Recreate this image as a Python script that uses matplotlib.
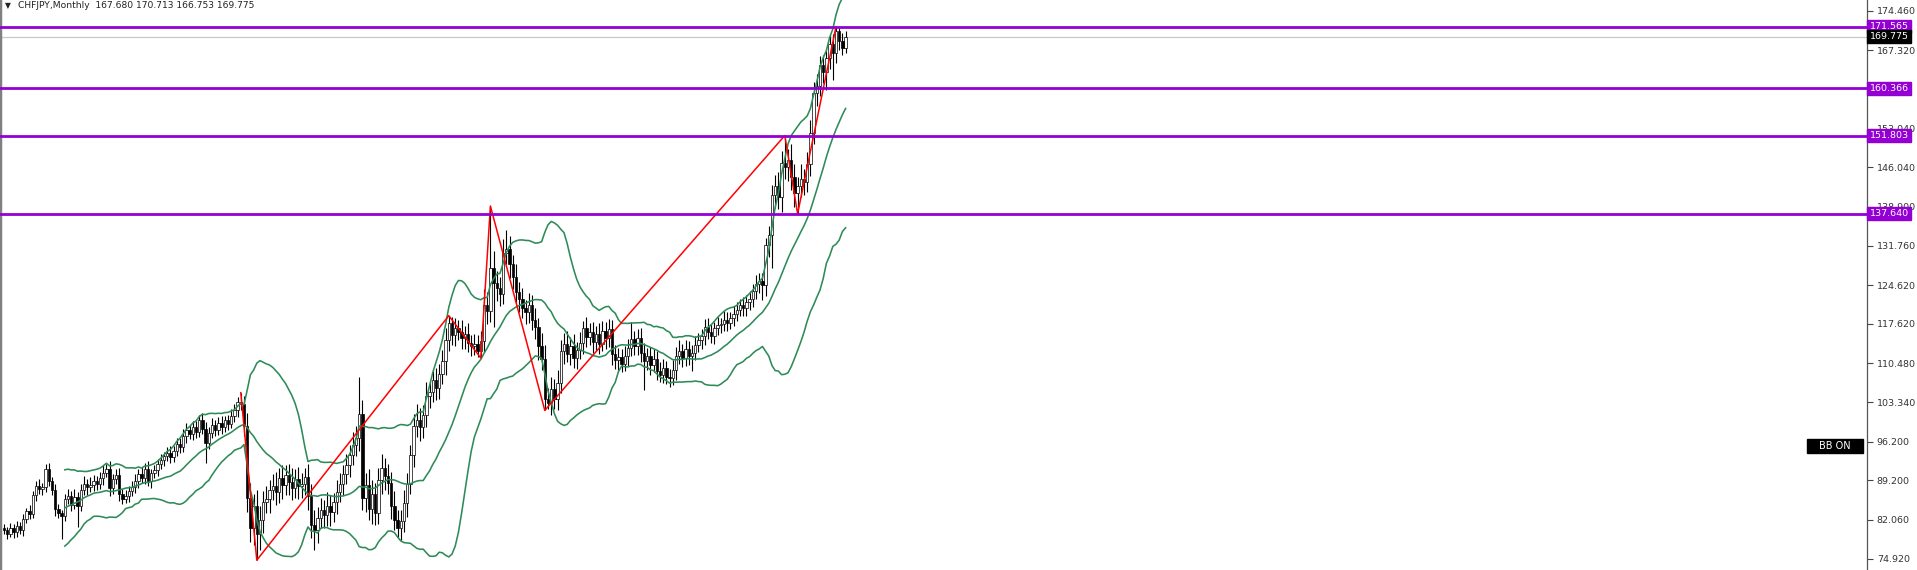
import numpy as np
import pandas as pd
import matplotlib
matplotlib.use("Agg")
import matplotlib.pyplot as plt
from matplotlib.transforms import blended_transform_factory
from matplotlib.patches import Rectangle

# ---------------- data ----------------
first_open = 80.5
closes = [
    80.2, 79.5, 80.6, 79.8, 80.9, 80.1, 82.2, 83.6, 83.0, 86.5, 88.2, 87.6, 88.0, 91.2, 89.0, 87.5, 84.0, 83.2, 82.8, 85.8,
    86.4, 84.8, 86.2, 84.6, 87.5, 88.6, 87.9, 88.3, 89.1, 88.5, 89.6, 90.6, 91.2, 87.8, 89.5, 90.2, 86.8, 85.9, 86.4, 87.2,
    87.9, 89.0, 90.4, 89.6, 91.3, 89.1, 90.5, 91.0, 92.1, 92.9, 93.6, 94.2, 93.5, 94.6, 95.8, 95.2, 97.2, 98.4, 97.6, 98.9,
    98.0, 100.2, 98.6, 96.0, 97.8, 99.2, 98.4, 99.6, 98.9, 100.1, 99.5, 100.8, 101.9, 103.4, 103.0, 99.0, 86.0, 80.5, 84.5, 79.5,
    82.0, 85.2, 85.8, 87.4, 88.2, 87.0, 89.6, 88.4, 90.1, 88.9, 87.8, 89.5, 88.2, 88.6, 89.8, 86.4, 81.0, 80.2, 82.4, 83.8,
    82.9, 84.6, 83.4, 85.2, 87.0, 88.6, 90.4, 92.0, 93.8, 95.6, 96.9, 101.2, 86.0, 88.4, 84.0, 86.8, 83.2, 89.2, 91.4, 90.0,
    88.8, 84.6, 82.0, 80.6, 81.8, 85.0, 88.5, 93.8, 99.0, 100.2, 98.8, 101.0, 104.6, 105.2, 107.4, 106.0, 108.5, 110.8, 114.6, 117.8,
    115.6, 116.8, 116.2, 115.0, 115.8, 114.2, 113.6, 114.0, 112.6, 114.5, 121.0, 120.0, 127.8, 125.0, 124.2, 123.0, 130.4, 131.2, 128.4, 126.2,
    123.4, 122.2, 120.4, 119.8, 121.0, 118.4, 117.0, 113.5, 111.2, 104.0, 103.2, 105.8, 104.0, 106.8, 112.6, 114.0, 112.2, 113.6, 111.4, 112.8,
    114.2, 116.8, 115.2, 116.2, 114.4, 115.8, 114.0, 116.4, 115.0, 116.6, 112.2, 111.0, 111.6, 110.4, 111.8, 113.2, 114.8, 113.6, 115.0, 112.4,
    110.8, 111.8, 110.2, 111.2, 109.0, 108.4, 109.6, 108.0, 107.8, 109.2, 111.8, 112.6, 111.4, 113.0, 111.8, 112.4, 113.8, 114.6, 115.4, 117.0,
    116.2, 115.4, 116.8, 117.4, 117.6, 118.4, 117.8, 118.6, 119.4, 120.2, 121.0, 120.4, 121.6, 122.2, 123.6, 124.8, 125.4, 124.6, 132.0, 133.8,
    141.0, 142.6, 140.6, 146.8, 146.0, 147.4, 144.2, 141.4, 142.6, 144.0, 143.4, 146.6, 152.2, 159.5, 160.8, 164.6, 163.4, 165.8, 168.4, 166.8,
    170.8, 169.0, 167.68, 169.775,
]
upper_wicks = [
    0.8, 0.6, 0.9, 0.7, 1.0, 0.8, 0.9, 0.6, 1.1, 0.8, 0.9, 1.2, 0.7, 0.9, 1.1, 0.8, 1.0, 0.9, 0.7, 1.0,
    1.2, 0.9, 1.4, 0.8, 1.1, 1.3, 0.9, 1.5, 1.0, 0.8, 1.2, 1.4, 1.0, 1.6, 0.9, 1.1, 1.2, 0.8, 1.0, 0.9,
    1.1, 1.3, 0.9, 1.2, 1.0, 1.4, 0.8, 1.0, 0.9, 1.1, 0.8, 1.0, 1.2, 0.9, 1.1, 1.0, 1.3, 1.2, 0.9, 1.1,
    1.0, 0.9, 1.3, 1.2, 1.0, 1.4, 0.9, 1.1, 1.2, 0.8, 1.0, 1.3, 1.2, 0.9, 1.7, 1.6, 2.4, 2.8, 2.2, 3.0,
    2.6, 2.0, 2.4, 1.8, 2.2, 2.6, 1.9, 2.3, 1.8, 2.1, 2.5, 1.7, 2.2, 2.0, 1.6, 2.4, 2.1, 2.8, 1.9, 2.2,
    1.8, 2.4, 2.0, 1.7, 2.2, 1.9, 1.6, 2.0, 1.8, 2.3, 2.1, 6.8, 2.6, 2.2, 2.8, 2.4, 2.0, 2.3, 2.6, 1.9,
    2.2, 2.0, 2.6, 1.8, 2.1, 2.4, 2.0, 1.9, 2.3, 2.8, 2.2, 1.9, 2.4, 2.0, 1.7, 2.2, 1.8, 2.0, 2.3, 1.3,
    1.0, 1.8, 1.6, 2.1, 1.5, 1.9, 1.4, 1.7, 1.6, 1.8, 3.0, 2.4, 11.2, 3.0, 2.2, 2.0, 2.6, 3.5, 2.4, 1.8,
    2.2, 1.9, 2.0, 1.6, 2.3, 1.8, 2.0, 1.7, 2.4, 2.6, 2.0, 2.2, 1.8, 2.4, 2.0, 1.9, 2.3, 1.7, 2.1, 1.6,
    1.9, 1.4, 2.0, 1.6, 1.8, 1.5, 1.9, 1.7, 1.6, 1.9, 1.8, 1.5, 1.6, 1.4, 1.8, 1.6, 3.2, 1.5, 1.7, 1.9,
    1.8, 1.5, 1.6, 1.9, 1.4, 1.6, 1.7, 1.3, 1.5, 1.8, 1.6, 2.0, 1.4, 1.7, 1.5, 1.3, 1.6, 1.4, 1.2, 1.5,
    1.6, 1.3, 1.2, 1.4, 1.1, 1.5, 1.3, 1.2, 1.4, 1.3, 1.2, 1.5, 1.3, 1.4, 1.2, 1.6, 1.5, 1.4, 1.2, 1.6,
    1.8, 2.0, 2.6, 2.2, 5.0, 2.0, 2.8, 2.4, 1.6, 2.6, 1.8, 2.2, 2.4, 2.0, 2.2, 1.6, 1.8, 1.4, 1.6, 1.8,
    0.765, 0.5, 1.4, 0.938,
]
lower_wicks = [
    0.7, 0.9, 0.6, 1.0, 0.8, 0.7, 1.0, 0.8, 0.9, 0.7, 1.0, 0.8, 1.1, 0.9, 0.8, 1.0, 1.2, 0.9, 4.2, 1.0,
    0.9, 1.2, 0.8, 3.9, 1.0, 0.9, 1.3, 0.8, 1.1, 1.0, 0.9, 1.2, 0.8, 1.4, 1.0, 0.9, 1.3, 1.0, 0.8, 1.1,
    0.9, 1.0, 1.2, 0.8, 1.1, 0.9, 1.3, 0.8, 1.0, 0.9, 1.1, 0.8, 1.2, 0.9, 1.0, 1.1, 0.8, 1.2, 0.9, 1.0,
    1.1, 0.9, 1.0, 3.6, 1.2, 0.9, 1.1, 1.0, 1.3, 0.9, 1.1, 0.8, 1.0, 1.2, 1.0, 1.8, 2.5, 2.5, 3.0, 4.8,
    3.0, 2.4, 2.0, 2.6, 1.8, 2.2, 2.0, 2.5, 1.9, 2.3, 2.1, 1.8, 2.4, 2.2, 2.0, 2.6, 2.2, 3.6, 2.4, 1.9,
    2.3, 2.0, 2.5, 1.8, 2.1, 1.7, 2.0, 1.9, 2.2, 1.8, 2.0, 2.4, 2.2, 2.6, 2.0, 2.8, 2.2, 2.0, 2.4, 2.6,
    2.0, 2.4, 1.8, 1.7, 2.2, 2.0, 2.5, 1.8, 2.2, 2.0, 2.4, 1.9, 2.1, 2.3, 1.8, 2.2, 2.0, 1.9, 2.4, 2.0,
    1.8, 2.0, 1.6, 1.9, 2.0, 1.7, 1.9, 1.6, 1.0, 1.2, 2.0, 2.4, 2.0, 8.0, 2.4, 2.2, 1.8, 2.0, 2.4, 2.2,
    2.0, 2.4, 1.8, 2.2, 2.0, 1.9, 2.2, 2.4, 2.0, 2.1, 1.0, 2.2, 1.9, 2.0, 1.8, 2.2, 1.6, 2.0, 1.8, 1.9,
    1.6, 2.0, 1.8, 1.5, 2.0, 1.6, 1.8, 1.4, 1.9, 1.6, 2.0, 1.5, 1.7, 1.6, 1.4, 1.8, 1.5, 1.7, 1.6, 1.8,
    5.2, 1.6, 1.8, 1.4, 1.6, 1.3, 1.5, 1.4, 1.6, 1.3, 1.8, 1.5, 1.6, 1.4, 1.7, 2.8, 1.4, 1.3, 1.5, 1.6,
    1.4, 1.3, 1.5, 1.2, 1.4, 1.3, 1.5, 1.2, 1.4, 1.3, 1.2, 1.4, 1.3, 1.5, 1.6, 1.4, 1.5, 2.6, 2.0, 2.2,
    6.0, 2.4, 2.2, 2.6, 2.0, 2.4, 2.2, 2.6, 3.8, 2.0, 2.4, 1.8, 2.2, 2.0, 2.4, 1.8, 2.0, 3.4, 2.0, 5.0,
    1.8, 1.6, 1.3, 0.927,
]
zigzag_bars = [74, 79, 139, 149, 152, 169, 244, 248, 260]
zigzag_kind = ["H", "L", "H", "L", "H", "L", "H", "L", "H"]
levels = [171.565, 160.366, 151.803, 137.640]
last_price = 169.775
tick_values = [174.460, 167.320, 153.040, 146.040, 138.900, 131.760, 124.620,
               117.620, 110.480, 103.340, 96.200, 89.200, 82.060, 74.920]
title_text = "CHFJPY,Monthly  167.680 170.713 166.753 169.775"
bb_period = 20
bb_dev = 2.0

# ---------------- derived series ----------------
c = np.array(closes, dtype=float)
o = np.concatenate([[first_open], c[:-1]])
h = np.maximum(o, c) + np.array(upper_wicks)
l = np.minimum(o, c) - np.array(lower_wicks)
x = np.arange(len(c))

s = pd.Series(c)
mid = s.rolling(bb_period).mean()
sd = s.rolling(bb_period).std(ddof=0)
upper = mid + bb_dev * sd
lower = mid - bb_dev * sd

zz_y = [h[i] if k == "H" else l[i] for i, k in zip(zigzag_bars, zigzag_kind)]

# ---------------- figure ----------------
W, H = 1917, 570
fig = plt.figure(figsize=(W / 100, H / 100), dpi=100)
fig.patch.set_facecolor("white")
axis_px = 1867
ax = fig.add_axes([0, 0, axis_px / W, 1])
ax.set_facecolor("white")

ax.set_xlim(-1.25, (axis_px - 4) / 3.2)
ax.set_ylim(72.92, 176.41)

FONT = "DejaVu Sans"

# candles
up = c >= o
ax.vlines(x, l, h, color="black", linewidth=0.8, zorder=2)
body_bottom = np.minimum(o, c)
body_h = np.maximum(np.abs(c - o), 0.15)
ax.bar(x[up], body_h[up], bottom=body_bottom[up], width=0.72,
       color="white", edgecolor="black", linewidth=0.5, zorder=2.1)
ax.bar(x[~up], body_h[~up], bottom=body_bottom[~up], width=0.72,
       color="black", edgecolor="black", linewidth=0.5, zorder=2.1)

# bollinger bands
for band in (upper, mid, lower):
    ax.plot(x, band, color="#2E8B57", linewidth=1.15, zorder=3)

# zigzag
ax.plot(zigzag_bars, zz_y, color="red", linewidth=1.1, zorder=4)

# horizontal levels
ax.axhline(last_price, color="#c8c8c8", linewidth=0.9, zorder=1.5)
for lv in levels:
    ax.axhline(lv, color="#9400D3", linewidth=2.0, zorder=5)

# axes styling
for side in ("top", "bottom"):
    ax.spines[side].set_visible(False)
ax.spines["right"].set_color("#555555")
ax.spines["right"].set_linewidth(0.9)
ax.spines["left"].set_color("#808080")
ax.spines["left"].set_linewidth(2.5)
ax.set_xticks([])
ax.yaxis.tick_right()
ax.set_yticks(tick_values)
ax.set_yticklabels([f"{v:.3f}" for v in tick_values], fontfamily=FONT)
ax.tick_params(axis="y", direction="out", length=4, width=0.8, pad=3,
               labelsize=6.8, colors="#444444", labelcolor="#333333")

# right-side price labels
trans = blended_transform_factory(ax.transAxes, ax.transData)
xoff = 1.0 + 2.5 / axis_px
for lv in levels:
    ax.text(xoff, lv, f"{lv:.3f}", transform=trans, ha="left", va="center",
            fontsize=6.8, color="white", fontfamily=FONT, zorder=10,
            bbox=dict(boxstyle="square,pad=0.22", fc="#9400D3", ec="#9400D3"))
ax.text(xoff, last_price, f"{last_price:.3f}", transform=trans, ha="left", va="center",
        fontsize=6.8, color="white", fontfamily=FONT, zorder=10,
        bbox=dict(boxstyle="square,pad=0.22", fc="black", ec="black"))

# title
fig.text(5 / W, 1 - 6 / H, "\u25bc", fontsize=5.5, color="#222222", va="center", ha="left",
         fontfamily=FONT)
fig.text(18 / W, 1 - 6 / H, title_text, fontsize=6.6, color="#222222", va="center",
         ha="left", fontfamily=FONT)

# BB ON badge
fig.patches.append(Rectangle((1807 / W, 1 - 453 / H), 56 / W, 14 / H,
                             transform=fig.transFigure, fc="black", ec="black", zorder=10))
fig.text(1835 / W, 1 - 446 / H, "BB ON", fontsize=7, color="white", va="center",
         ha="center", fontfamily=FONT, zorder=11)

fig.savefig("out.png", dpi=100, facecolor="white")
